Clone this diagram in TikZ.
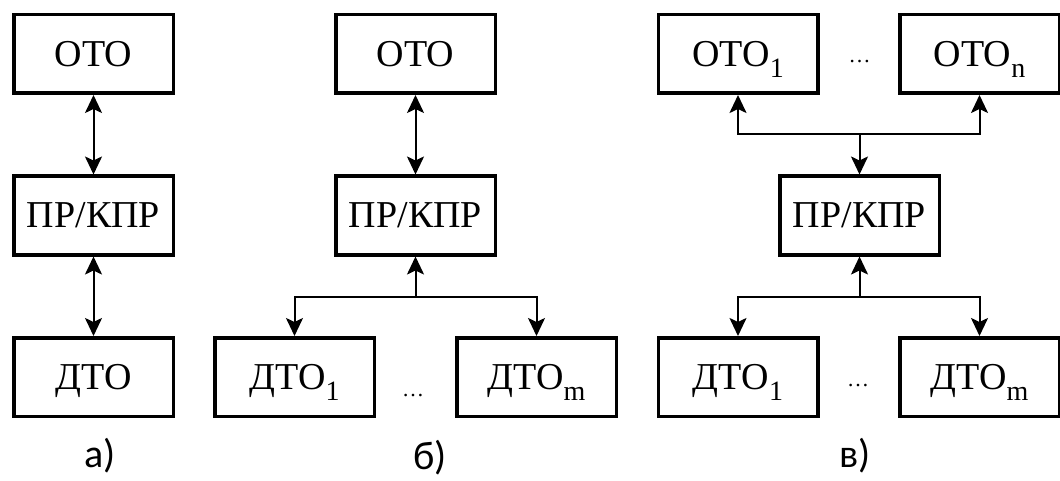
\documentclass[tikz,border=0pt]{standalone}
\usepackage{fontspec}
\setmainfont{Liberation Serif}
\newfontfamily\lblfont{Carlito}
\usetikzlibrary{arrows.meta}
\newcommand{\sbs}[1]{\raisebox{-0.3em}{\fontsize{28}{28}\selectfont #1}}
\tikzset{
  tip/.tip={Stealth[length=18pt,width=17pt,inset=4pt]},
  blk/.style={draw, line width=3.5pt, minimum width=159.5pt, minimum height=78.5pt,
    inner sep=0pt, text height=25pt, text depth=0pt,
    font=\fontsize{38}{40}\selectfont},
  conn/.style={line width=2pt, tip-tip},
  conn1/.style={line width=2pt, -tip},
  lbl/.style={font=\lblfont\fontsize{40}{42}\selectfont, inner sep=0pt},
  dots/.style={font=\fontsize{22}{22}\selectfont, inner sep=0pt, anchor=base}
}
\begin{document}
\begin{tikzpicture}[x=1pt,y=-1pt]
\useasboundingbox (0,0) rectangle (1060,481);
% panel a
\node[blk] (ota) at (93.5,54) {ОТО};
\node[blk] (pra) at (93.5,215.5) {ПР/КПР};
\node[blk] (dta) at (93.5,377) {ДТО};
\draw[conn] (ota.south) -- (pra.north);
\draw[conn] (pra.south) -- (dta.north);
\node[lbl] (la) at (100,456) {а)};
% panel b
\node[blk] (otb) at (415.5,54) {ОТО};
\node[blk] (prb) at (415.5,215.5) {ПР/КПР};
\node[blk] (d1b) at (294.5,377) {ДТО\sbs{1}};
\node[blk] (dmb) at (536.5,377) {ДТО\sbs{m}};
\coordinate (jb) at (415.5,297);
\draw[conn] (otb.south) -- (prb.north);
\draw[conn1] (jb) -- (prb.south);
\draw[conn] (d1b.north) |- (jb) -| (dmb.north);
\node[dots] (eb) at (413,396) {…};
\node[lbl] (lb) at (430,458) {б)};
% panel c
\node[blk] (o1c) at (738,54) {ОТО\sbs{1}};
\node[blk] (onc) at (979.5,54) {ОТО\sbs{n}};
\node[blk] (prc) at (859.5,215.5) {ПР/КПР};
\node[blk] (d1c) at (738,377) {ДТО\sbs{1}};
\node[blk] (dmc) at (979.5,377) {ДТО\sbs{m}};
\coordinate (jc1) at (859.5,134);
\coordinate (jc2) at (859.5,297);
\draw[conn] (o1c.south) |- (jc1) -| (onc.south);
\draw[conn1] (jc1) -- (prc.north);
\draw[conn1] (jc2) -- (prc.south);
\draw[conn] (d1c.north) |- (jc2) -| (dmc.north);
\node[dots] (ec1) at (859.5,63) {…};
\node[dots] (ec2) at (858,386) {…};
\node[lbl] (lc) at (855,456) {в)};
\end{tikzpicture}
\end{document}
